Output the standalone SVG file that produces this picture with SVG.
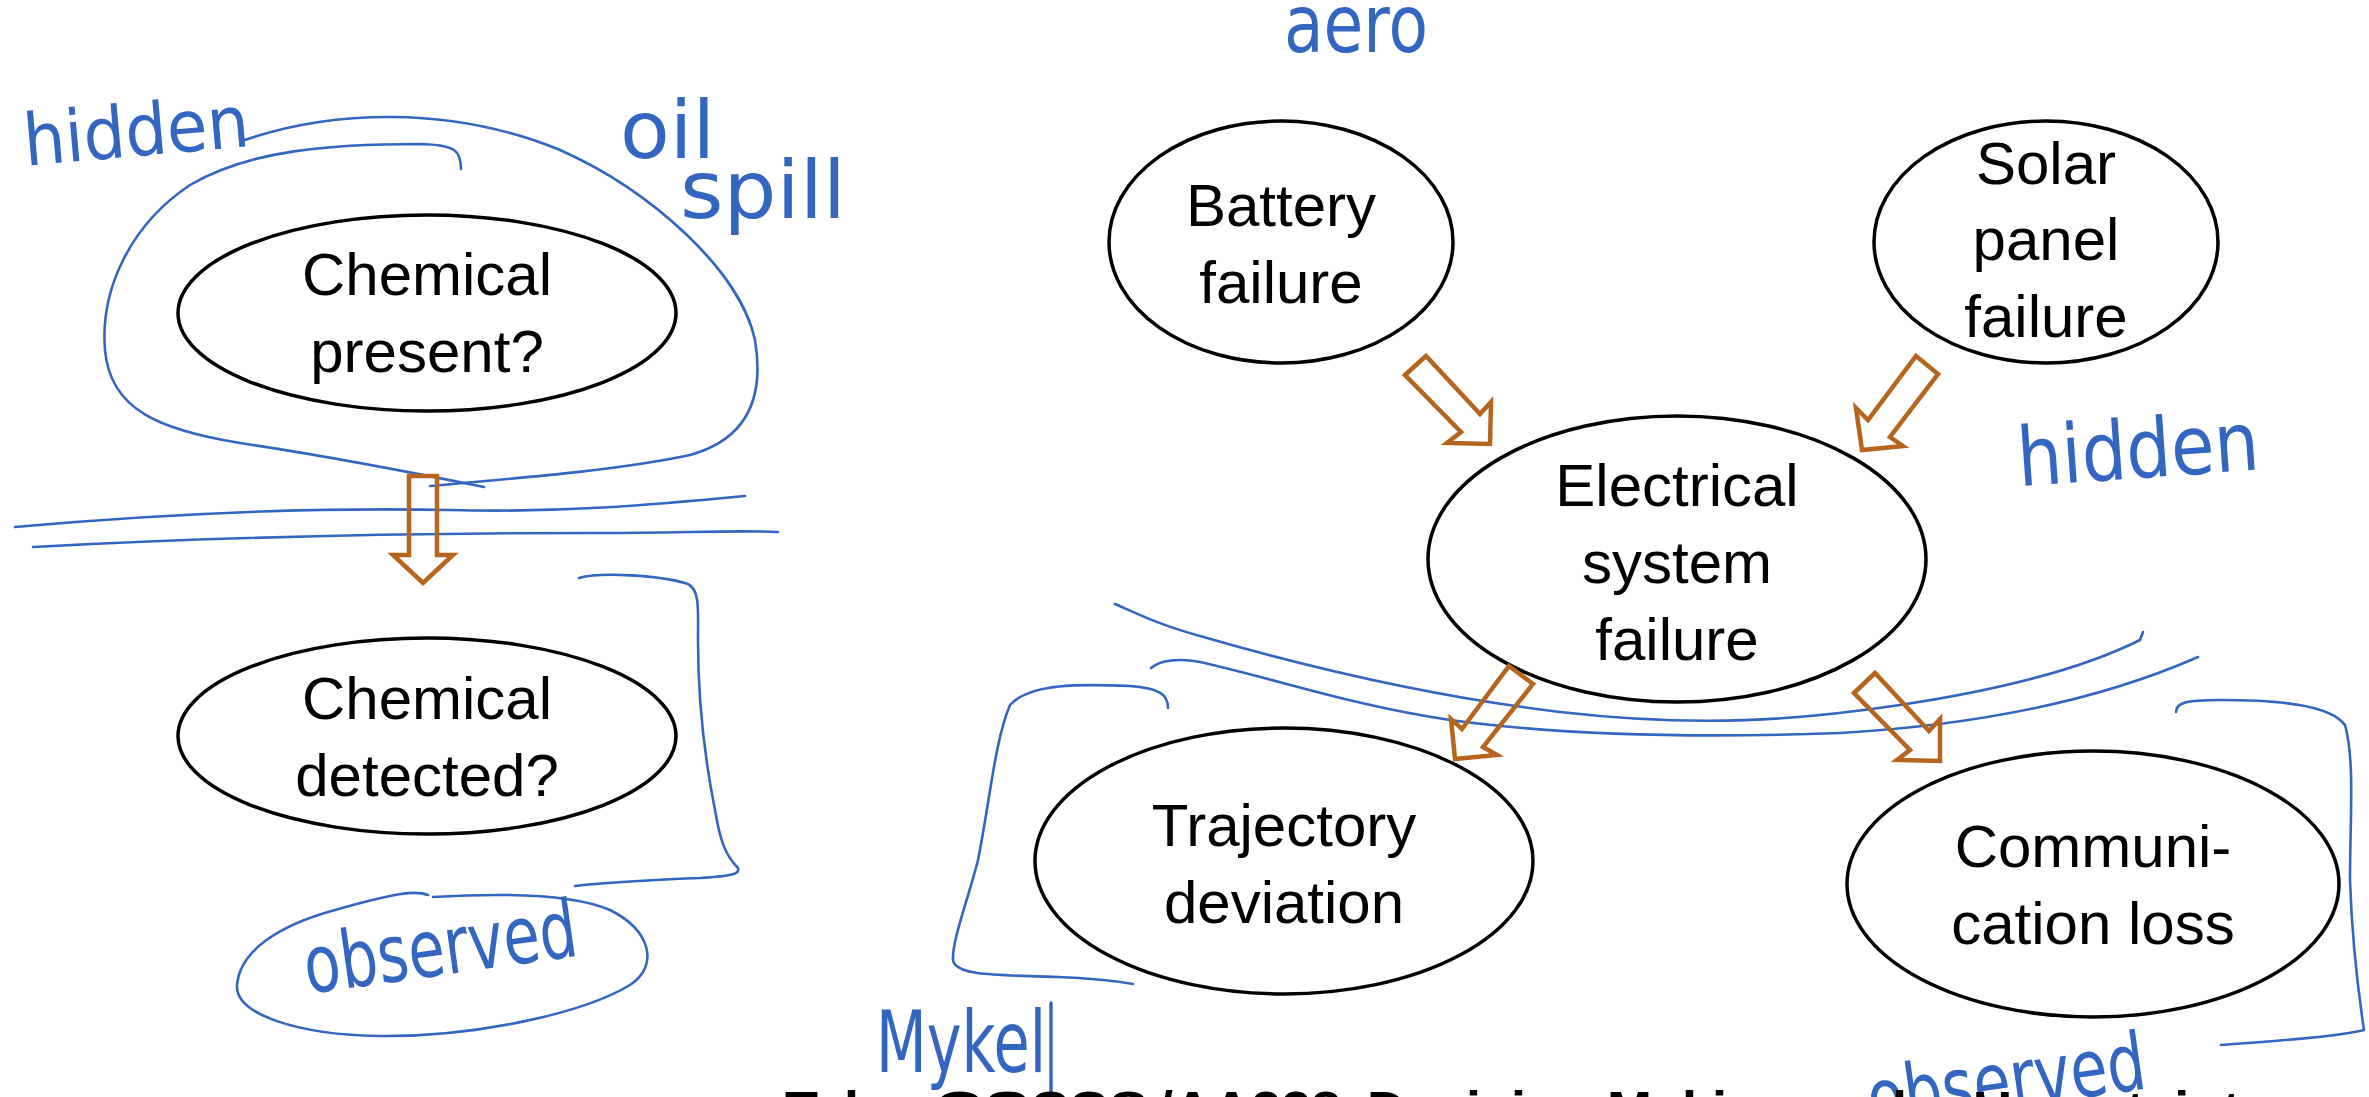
<svg xmlns="http://www.w3.org/2000/svg" width="2369" height="1097" viewBox="0 0 2369 1097">
<style>
.node ellipse{fill:#fff;stroke:#000;stroke-width:3.5}
.node text{font-family:"Liberation Sans",Arial,sans-serif;font-size:60px;fill:#000;text-anchor:middle}
.ink{fill:none;stroke:#3366C0;stroke-width:2.6;stroke-linecap:round;stroke-linejoin:round}
.inkb{fill:none;stroke:#3366C0;stroke-width:3.4;stroke-linecap:round;stroke-linejoin:round}
.hw{font-family:"DejaVu Sans",sans-serif;fill:#3366C0}
.arr{fill:none;stroke:#B5651D;stroke-width:4.5;stroke-linejoin:miter}
.foot{font-family:"Liberation Sans",Arial,sans-serif;font-weight:bold;font-size:54px;fill:#000}
</style>
<rect width="2369" height="1097" fill="#fff"/>

<g id="n-chem-present" class="node"><ellipse cx="427" cy="313" rx="249" ry="98"/><text x="427" y="295">Chemical</text><text x="427" y="372">present?</text></g>
<g id="n-chem-detected" class="node"><ellipse cx="427" cy="736" rx="249" ry="98"/><text x="427" y="719">Chemical</text><text x="427" y="796">detected?</text></g>
<g id="n-battery" class="node"><ellipse cx="1281" cy="242" rx="172" ry="121"/><text x="1281" y="226">Battery</text><text x="1281" y="303">failure</text></g>
<g id="n-solar" class="node"><ellipse cx="2046" cy="242" rx="172" ry="121"/><text x="2046" y="184">Solar</text><text x="2046" y="260">panel</text><text x="2046" y="337">failure</text></g>
<g id="n-electrical" class="node"><ellipse cx="1677" cy="559" rx="249" ry="143"/><text x="1677" y="506">Electrical</text><text x="1677" y="583">system</text><text x="1677" y="660">failure</text></g>
<g id="n-trajectory" class="node"><ellipse cx="1284" cy="861" rx="249" ry="133"/><text x="1284" y="846">Trajectory</text><text x="1284" y="923">deviation</text></g>
<g id="n-comm" class="node"><ellipse cx="2093" cy="884" rx="246" ry="133"/><text x="2093" y="867">Communi-</text><text x="2093" y="944">cation loss</text></g>

<g id="annotations">
<path class="ink" d="M242,141 C330,110 450,105 560,150 C650,190 740,270 755,340 C765,400 745,440 690,455 C620,470 520,478 430,486"/>
<path class="ink" d="M461,169 C461,150 455,145 420,144 C330,144 250,150 190,185 C130,225 100,290 105,350 C110,410 160,430 240,443 C320,455 400,470 484,487"/>
<path class="ink" d="M15,527 C150,515 300,507 450,510 C560,513 650,505 745,496"/>
<path class="ink" d="M33,547 C200,538 400,533 600,533 C680,533 740,530 778,532"/>
<path class="ink" d="M579,578 C600,572 660,575 688,584 C700,590 698,610 698,640 C698,700 705,760 715,810 C720,840 725,855 738,868 C740,874 732,876 700,878 C650,880 610,882 575,886"/>
<path class="ink" d="M428,895 C415,890 395,893 335,910 C280,925 240,950 237,985 C235,1015 300,1035 380,1036 C470,1037 580,1015 630,985 C660,965 650,930 610,910 C570,893 500,893 433,897"/>
<path class="ink" d="M1115,604 C1140,615 1160,625 1200,636 C1300,665 1420,695 1560,712 C1700,728 1800,720 1900,705 C2000,690 2080,670 2140,640 L2143,632"/>
<path class="ink" d="M1151,668 C1160,660 1180,658 1200,662 C1280,680 1350,705 1450,720 C1560,735 1700,738 1840,733 C1980,725 2100,700 2198,657"/>
<path class="ink" d="M1168,708 C1168,695 1160,688 1130,686 C1080,684 1030,683 1010,705 C995,740 990,800 978,860 C968,900 952,940 953,960 C955,975 990,975 1058,977 C1090,978 1110,980 1133,984"/>
<path class="inkb" d="M1051,1003 L1051,1097"/>
<path class="ink" d="M2176,712 C2176,703 2185,700 2220,700 C2280,700 2330,705 2345,725 C2355,760 2350,820 2350,880 C2352,940 2358,990 2364,1030 C2340,1036 2290,1040 2221,1045"/>

<text class="hw" x="23" y="156" font-size="72" textLength="226" lengthAdjust="spacingAndGlyphs" transform="rotate(-5 136 130)">hidden</text>
<text class="hw" x="620" y="158" font-size="80" textLength="95" lengthAdjust="spacingAndGlyphs">oil</text>
<text class="hw" x="680" y="218" font-size="80" textLength="166" lengthAdjust="spacingAndGlyphs">spill</text>
<text class="hw" x="1284" y="52" font-size="80" textLength="144" lengthAdjust="spacingAndGlyphs">aero</text>
<text class="hw" x="2017" y="478" font-size="82" textLength="242" lengthAdjust="spacingAndGlyphs" transform="rotate(-4 2138 450)">hidden</text>
<text class="hw" x="303" y="975" font-size="80" textLength="275" lengthAdjust="spacingAndGlyphs" transform="rotate(-8 440 950)">observed</text>
<text class="hw" x="876" y="1072" font-size="86" textLength="170" lengthAdjust="spacingAndGlyphs">Mykel</text>
<text class="hw" x="1866" y="1108" font-size="80" textLength="280" lengthAdjust="spacingAndGlyphs" transform="rotate(-8 2006 1080)">observed</text>
</g>

<g id="connectors">
<polygon class="arr" points="409,476 437,476 437,555 453,555 423,583 393,555 409,555"/>
<polygon class="arr" points="1405,375 1426,356 1480,414 1491,402 1490,444 1447,443 1461,432"/>
<polygon class="arr" points="1916,356 1938,374 1890,437 1903,446 1862,450 1856,408 1868,420"/>
<polygon class="arr" points="1509,666 1533,684 1483,747 1497,755 1455,759 1451,719 1462,729"/>
<polygon class="arr" points="1854,693 1875,673 1929,731 1940,719 1940,761 1897,760 1910,750"/>
</g>

<g id="footer">
<text class="foot" x="785" y="1129">Taba</text>
<text class="foot" x="933" y="1129" textLength="215" lengthAdjust="spacingAndGlyphs">CS238</text>
<text class="foot" x="1158" y="1129">/AA228:</text>
<text class="foot" x="1367" y="1129">Decision Making under Uncertainty</text>
</g>
</svg>
